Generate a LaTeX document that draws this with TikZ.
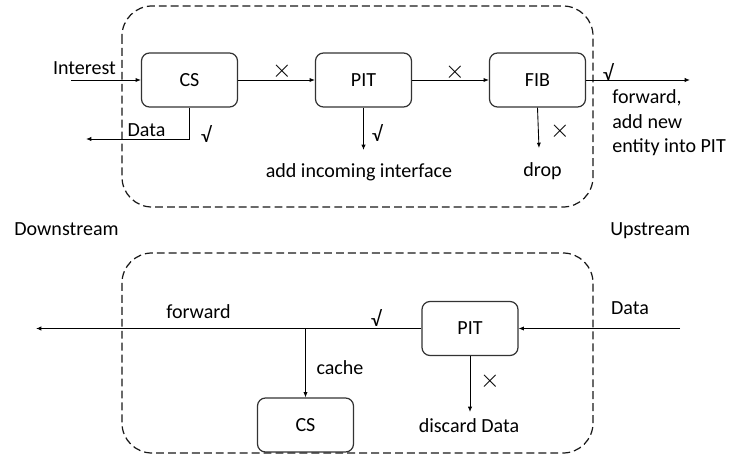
\documentclass[tikz,border=0pt]{standalone}
\usepackage{fontspec}
\setmainfont{Carlito}
\usetikzlibrary{arrows.meta}
\tikzset{
  block/.style={draw=black!80, line width=0.7pt, rounded corners=0.16cm,
    minimum width=1.92cm, minimum height=1.08cm, font=\fontsize{11.4}{14}\selectfont},
  frame/.style={draw=black!90, line width=0.7pt, dash pattern=on 4.5pt off 2.3pt,
    rounded corners=0.6cm},
  txt/.style={inner sep=0pt, anchor=base, font=\fontsize{11.4}{14.2}\selectfont},
  yes/.style={inner sep=0pt, font=\fontsize{12}{14}\selectfont},
  no/.style={inner sep=0pt, font=\fontsize{15}{18}\selectfont},
  link/.style={->, line width=0.5pt},
  >={Latex[length=3pt,width=2.4pt]}
}
\begin{document}
\begin{tikzpicture}[x=0.02cm,y=-0.02cm]
  \useasboundingbox (0,0) rectangle (751,459);
  % the two routers
  \draw[frame] (122,6) rectangle (593,207);
  \draw[frame] (122,253) rectangle (593,453);
  \draw
    (189.5,80) node[block] (cs){CS}
    (363.5,80) node[block] (pit){PIT}
    (537.5,80) node[block] (fib){FIB}
    (470,328.5) node[block] (pitb){PIT}
    (305.5,425) node[block] (csb){CS};
  \path
    (71,80) coordinate (in)
    (86,139) coordinate (dataout)
    (363.5,150) coordinate (pitend)
    (539,148) coordinate (fibend)
    (690,80) coordinate (fwdend)
    (680,328.5) coordinate (datain)
    (36,328.5) coordinate (fwdout)
    (305.5,328.5) coordinate (split)
    (470,412) coordinate (discard);
  \begin{scope}[link]
    \draw (in) to (cs);
    \draw (cs.south) -- (cs.south |- dataout) -- (dataout);
    \draw (cs) to (pit);
    \draw (pit) to (fib);
    \draw (pit.south) to (pitend);
    \draw (fib.south) to (fibend);
    \draw (fib) to (fwdend);
    \draw (datain) to (pitb);
    \draw (pitb) to (fwdout);
    \draw (split) to (csb);
    \draw (pitb.south) to (discard);
  \end{scope}
  % labels
  \path
    (84.5,75) node[txt] (lint){Interest}
    (146.5,137) node[txt] (ldata){Data}
    (359,178) node[txt] (ladd){add incoming interface}
    (542.5,177) node[txt] (ldrop){drop}
    (612,153) node[txt, anchor=base west, align=left] (lfwd){forward,\\add new\\entity into PIT}
    (14,236) node[txt, anchor=base west] (ldown){Downstream}
    (610,236) node[txt, anchor=base west] (lup){Upstream}
    (198.5,319) node[txt] (lfwdb){forward}
    (340,375) node[txt] (lcache){cache}
    (469,433) node[txt] (ldisc){discard Data}
    (630,315) node[txt] (ldatab){Data};
  \path
    (206,134) node[yes] (y1){√}
    (377,133) node[yes] (y2){√}
    (608,72) node[yes] (y3){√}
    (376,318) node[yes] (y4){√}
    (282,71) node[no] (n1){$\times$}
    (455,72) node[no] (n2){$\times$}
    (560,131) node[no] (n3){$\times$}
    (490,381) node[no] (n4){$\times$};
\end{tikzpicture}
\end{document}
